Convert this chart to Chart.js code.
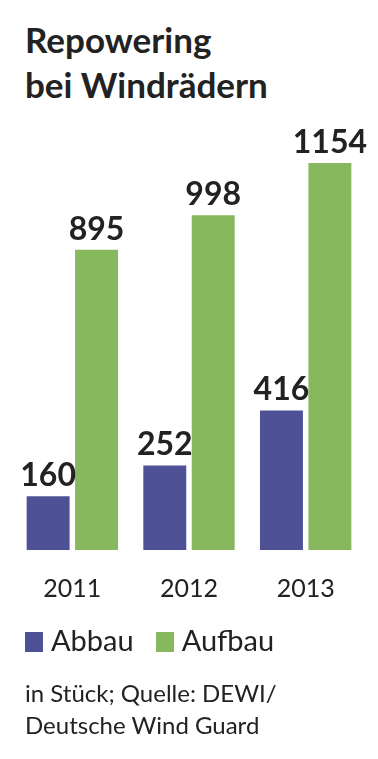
<!DOCTYPE html>
<html>
<head>
<meta charset="utf-8">
<script src="https://cdn.jsdelivr.net/npm/chart.js@4"></script>
<style>
  html, body { margin: 0; padding: 0; background: #fff; }
  body { width: 378px; height: 759px; position: relative; overflow: hidden; font-family: Lato, sans-serif; color: #222; }
  #title { position: absolute; left: 25px; top: 17px; font-size: 35px; line-height: 45px; font-weight: bold; }
  #chartBox { position: absolute; left: 0; top: 0; width: 378px; height: 628px; }
  #legend { position: absolute; left: 25px; top: 622px; font-size: 29px; line-height: 36px; white-space: nowrap; }
  #legend span.item { display: inline-block; margin-right: 22px; }
  #legend span.box { display: inline-block; width: 18px; height: 20px; margin-right: 8px; vertical-align: -1px; }
  #source { position: absolute; left: 25px; top: 677px; font-size: 24px; line-height: 32px; }
</style>
</head>
<body>
<div id="title">Repowering<br>bei Windrädern</div>
<div id="chartBox"><canvas id="chart"></canvas></div>
<div id="legend"></div>
<div id="source">in Stück; Quelle: DEWI/<br>Deutsche Wind Guard</div>
<script>
// Data
const years = ['2011', '2012', '2013'];
const abbau = [160, 252, 416];
const aufbau = [895, 998, 1154];
const seriesNames = ['Abbau', 'Aufbau'];

// Colors
const colorAbbau = '#4f5196';
const colorAufbau = '#87b85e';
const textColor = '#222';

// Value labels above each bar
const valueLabels = {
    id: 'valueLabels',
    afterDatasetsDraw(chart) {
        const ctx = chart.ctx;
        ctx.save();
        ctx.font = 'bold 32px Lato, sans-serif';
        ctx.fillStyle = textColor;
        ctx.textAlign = 'center';
        ctx.textBaseline = 'alphabetic';
        chart.data.datasets.forEach((ds, i) => {
            chart.getDatasetMeta(i).data.forEach((bar, j) => {
                ctx.fillText(ds.data[j], bar.x, bar.y - 10);
            });
        });
        ctx.restore();
    }
};

const chart = new Chart(document.getElementById('chart'), {
    type: 'bar',
    data: {
        labels: years,
        datasets: [
            { label: seriesNames[0], data: abbau, backgroundColor: colorAbbau },
            { label: seriesNames[1], data: aufbau, backgroundColor: colorAufbau }
        ]
    },
    options: {
        responsive: true,
        maintainAspectRatio: false,
        animation: false,
        categoryPercentage: 0.83,
        barPercentage: 0.887,
        layout: { padding: { left: 14, right: 14, top: 114, bottom: 0 } },
        plugins: {
            legend: { display: false },
            tooltip: { enabled: false }
        },
        scales: {
            x: {
                grid: { display: false, drawTicks: false },
                border: { display: false },
                ticks: { color: textColor, font: { family: 'Lato, sans-serif', size: 25 }, padding: 24 }
            },
            y: {
                display: false,
                min: 0,
                max: 1300
            }
        }
    },
    plugins: [valueLabels]
});

// Legend
const legend = document.getElementById('legend');
chart.data.datasets.forEach(ds => {
    const item = document.createElement('span');
    item.className = 'item';
    const box = document.createElement('span');
    box.className = 'box';
    box.style.background = ds.backgroundColor;
    item.appendChild(box);
    item.appendChild(document.createTextNode(ds.label));
    legend.appendChild(item);
});
</script>
</body>
</html>
